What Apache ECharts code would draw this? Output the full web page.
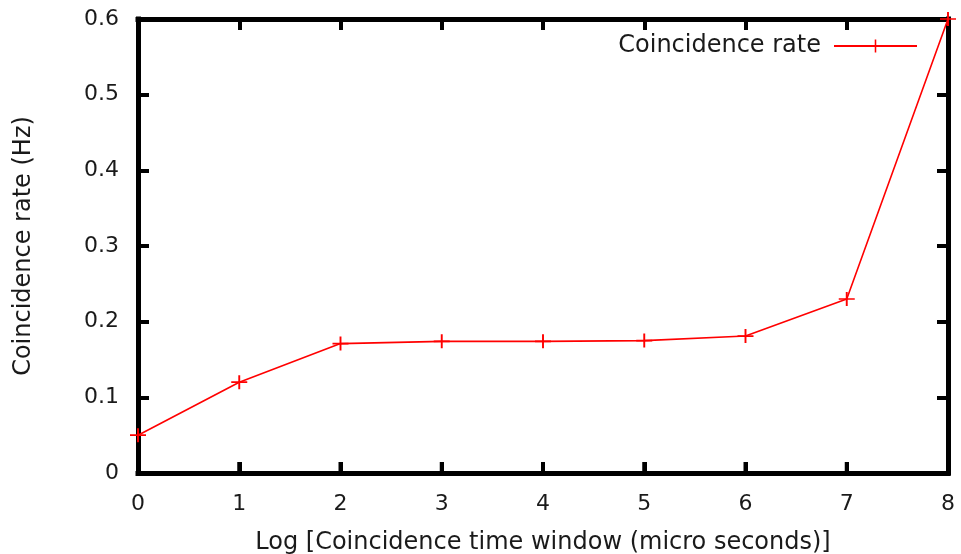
<!DOCTYPE html>
<html>
<head>
<meta charset="utf-8">
<script src="https://cdn.jsdelivr.net/npm/echarts@6/dist/echarts.min.js"></script>
<style>
  html, body { margin: 0; padding: 0; background: #fff; }
  #chart { width: 961px; height: 554px; }
</style>
</head>
<body>
<div id="chart"></div>
<script>
// Log10 of the coincidence time window (micro seconds)
var logWindow = [0, 1, 2, 3, 4, 5, 6, 7, 8];
// Measured coincidence rate (Hz)
var coincidenceRate = [0.050, 0.120, 0.171, 0.174, 0.174, 0.175, 0.181, 0.230, 0.600];
// Major tick values on the x axis
var xTickValues = [1, 2, 3, 4, 5, 6, 7];

var seriesName = 'Coincidence rate';
var xTitle = 'Log [Coincidence time window (micro seconds)]';
var yTitle = 'Coincidence rate (Hz)';

var FONT = 'DejaVu Sans';
var TEXT = '#1a1a1a';
var PLUS = 'path://M0,4.4H10V5.6H0Z M4.4,0H5.6V10H4.4Z';
var TICK_LEN = 11;

var chart = echarts.init(document.getElementById('chart'), null, { renderer: 'canvas' });

// Each side of the frame is an axis line with inward ticks
function frameTick() {
  return { show: true, inside: true, length: TICK_LEN, lineStyle: { color: '#000', width: 4 } };
}
function frameLine(onZero) {
  return { show: true, onZero: onZero, lineStyle: { color: '#000', width: 5, cap: 'square' } };
}

chart.setOption({
  animation: false,
  backgroundColor: '#fff',
  textStyle: { fontFamily: FONT, color: TEXT },
  grid: {
    left: 138, right: 13, top: 19, bottom: 81, show: false,
    containLabel: false, outerBoundsMode: 'none'
  },
  legend: {
    show: true,
    right: 43, top: 34,
    padding: 0,
    align: 'right',
    itemWidth: 83, itemHeight: 16,
    itemGap: 10,
    textStyle: { fontFamily: FONT, fontSize: 24, color: TEXT, padding: [0, 8, 0, 0] },
    data: [seriesName]
  },
  xAxis: [
    {
      type: 'value', position: 'bottom', min: 0, max: 8, interval: 1, z: 3,
      name: xTitle, nameLocation: 'middle', nameGap: 58,
      nameTextStyle: { fontFamily: FONT, fontSize: 24, color: TEXT },
      axisLine: frameLine(true),
      axisTick: frameTick(),
      splitLine: { show: false },
      axisLabel: { fontFamily: FONT, fontSize: 22, color: TEXT, margin: 20 }
    },
    {
      type: 'value', position: 'top', min: 0, max: 8, interval: 1, z: 3,
      axisLine: frameLine(false), axisTick: frameTick(),
      splitLine: { show: false }, axisLabel: { show: false }
    }
  ],
  yAxis: [
    {
      type: 'value', position: 'left', min: 0, max: 0.6, interval: 0.1, z: 3,
      name: yTitle, nameLocation: 'middle', nameGap: 102,
      nameTextStyle: { fontFamily: FONT, fontSize: 24, color: TEXT },
      axisLine: frameLine(true),
      axisTick: frameTick(),
      splitLine: { show: false },
      axisLabel: { fontFamily: FONT, fontSize: 22, color: TEXT, margin: 19 }
    },
    {
      type: 'value', position: 'right', min: 0, max: 0.6, interval: 0.1, z: 3,
      axisLine: frameLine(false), axisTick: frameTick(),
      splitLine: { show: false }, axisLabel: { show: false }
    }
  ],
  series: [
    {
      // inward ticks along the bottom edge, placed through the x scale
      name: 'bottom ticks',
      type: 'custom',
      xAxisIndex: 0, yAxisIndex: 0,
      data: xTickValues.map(function (x) { return [x, 0]; }),
      silent: true,
      clip: false,
      z: 10,
      renderItem: function (params, api) {
        var p = api.coord([api.value(0), api.value(1)]);
        return {
          type: 'rect',
          shape: { x: p[0] - 2, y: p[1] - TICK_LEN, width: 4, height: TICK_LEN },
          style: { fill: '#000' }
        };
      }
    },
    {
      name: seriesName,
      type: 'line',
      xAxisIndex: 0, yAxisIndex: 0,
      data: logWindow.map(function (x, i) { return [x, coincidenceRate[i]]; }),
      symbol: PLUS,
      symbolSize: [16, 14],
      showAllSymbol: true,
      clip: false,
      color: '#ff0000',
      itemStyle: { color: '#ff0000' },
      lineStyle: { color: '#ff0000', width: 1.6 },
      z: 5
    }
  ]
});
</script>
</body>
</html>
